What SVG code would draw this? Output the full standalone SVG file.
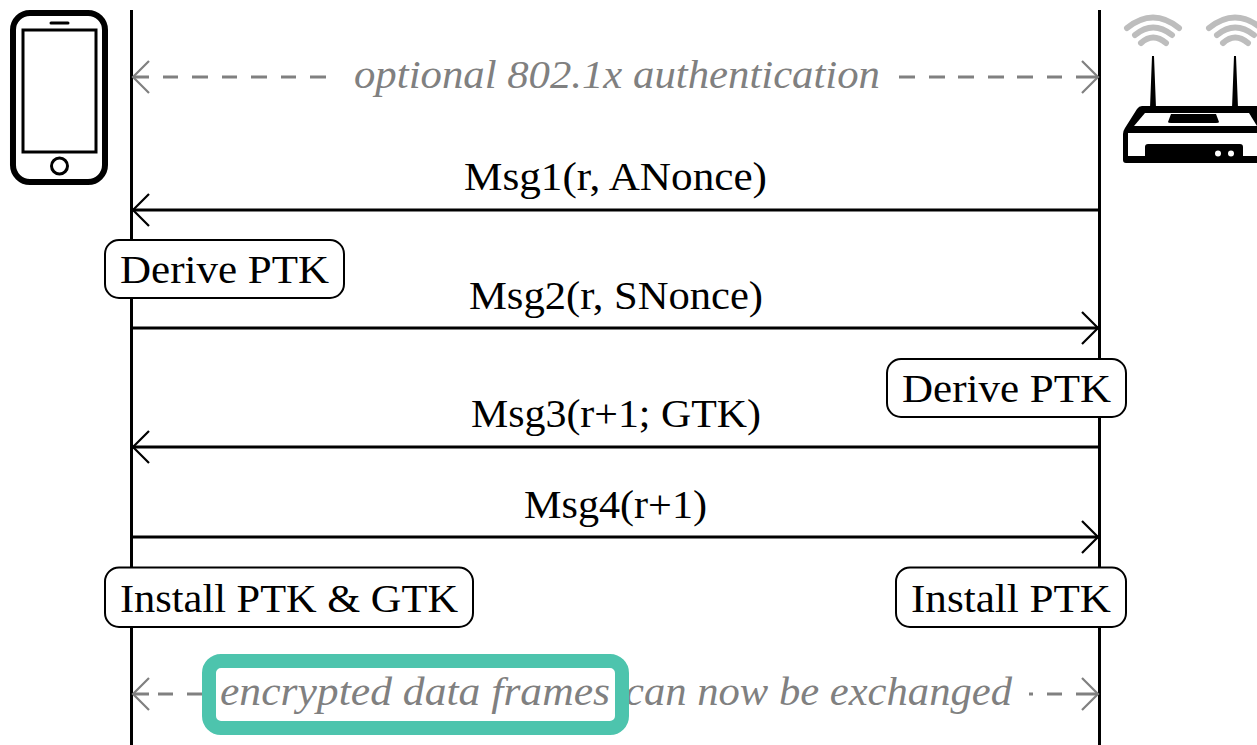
<svg xmlns="http://www.w3.org/2000/svg" width="1257" height="745" viewBox="0 0 1257 745">
<style>
text{font-family:"Liberation Serif","Times New Roman",serif;font-size:41px;fill:#000}
.g{fill:#808080;font-style:italic}
.life{stroke:#000;stroke-width:3;fill:none}
.msg{stroke:#000;stroke-width:3;fill:none}
.opt{stroke:#808080;stroke-width:3;fill:none}
.head{stroke:#000;stroke-width:2.2;fill:none}
.headg{stroke:#808080;stroke-width:2.2;fill:none}
.box{fill:#fff;stroke:#000;stroke-width:2}
.wifi{stroke:#bdbdbd;stroke-width:6;fill:none;stroke-linecap:round}
</style>
<rect width="1257" height="745" fill="#fff"/>
<g id="connectors">
<path class="life" d="M131.500 10V745"/>
<path class="life" d="M1099.500 10V745"/>
<path class="opt" d="M134 77H149M163 77H178M192 77H208M222 77H237M251 77H267M281 77H296M310 77H326"/>
<path class="opt" d="M899 77H915M929 77H945M958 77H974M988 77H1004M1017 77H1033M1047 77H1062M1076 77H1097"/>
<path class="headg" d="M149 61L133 77L149 93"/><path class="headg" d="M1082 61L1098 77L1082 93"/>
<path class="msg" d="M133 210H1098"/><path class="head" d="M149 194L133 210L149 226"/>
<path class="msg" d="M133 328H1098"/><path class="head" d="M1082 312L1098 328L1082 344"/>
<path class="msg" d="M133 447H1098"/><path class="head" d="M149 431L133 447L149 463"/>
<path class="msg" d="M133 537H1098"/><path class="head" d="M1082 521L1098 537L1082 553"/>
<path class="opt" d="M134 694H149M158 694H173M187 694H205"/>
<path class="opt" d="M1029 694H1033M1047 694H1062M1076 694H1097"/>
<path class="headg" d="M149 678L133 694L149 710"/><path class="headg" d="M1082 678L1098 694L1082 710"/>
</g>
<g id="phone">
<rect x="13" y="13" width="92" height="169" rx="17" fill="#fff" stroke="#000" stroke-width="6"/>
<rect x="23" y="30" width="73" height="122" fill="#fff" stroke="#000" stroke-width="3"/>
<path d="M51 23H68" stroke="#000" stroke-width="3" stroke-linecap="round"/>
<circle cx="59.500" cy="166" r="8" fill="#fff" stroke="#000" stroke-width="3"/>
</g>
<g id="router">
<path class="wifi" d="M1127 28Q1153 7 1179 28"/><path class="wifi" d="M1135 35Q1153 20 1172 35"/><path class="wifi" d="M1141 43Q1153 32 1166 43"/>
<path class="wifi" d="M1209 28Q1235 7 1261 28"/><path class="wifi" d="M1217 35Q1235 20 1254 35"/><path class="wifi" d="M1223 43Q1235 32 1248 43"/>
<path d="M1150 108L1152 56H1154L1156 108ZM1232 108L1234 56H1236L1238 108Z" fill="#000"/>
<path d="M1123 134V160Q1123 163 1126 163H1257V106H1142Q1139 106 1137 109L1125 128Q1123 131 1123 134Z" fill="#000"/>
<path d="M1134 126L1145 113H1249L1257 126Z" fill="#fff"/>
<path d="M1128 133H1257V156H1243V147Q1243 144 1240 144H1148Q1145 144 1145 147V156H1128Z" fill="#fff"/>
<path d="M1168 122L1171 114H1216L1219 122Q1219 123 1216 123H1171Q1168 123 1168 122Z" fill="#000"/>
<circle cx="1218" cy="153.500" r="3" fill="#fff"/><circle cx="1231" cy="153.500" r="3" fill="#fff"/>
</g>
<g id="opt-label"><text class="g" x="354" y="88" textLength="526" lengthAdjust="spacingAndGlyphs">optional 802.1x authentication</text></g>
<g id="msg1"><text x="464" y="190" textLength="303" lengthAdjust="spacingAndGlyphs">Msg1(r, ANonce)</text></g>
<g id="msg2"><text x="469" y="309" textLength="294" lengthAdjust="spacingAndGlyphs">Msg2(r, SNonce)</text></g>
<g id="msg3"><text x="471" y="427" textLength="290" lengthAdjust="spacingAndGlyphs">Msg3(r+1; GTK)</text></g>
<g id="msg4"><text x="524" y="518" textLength="183" lengthAdjust="spacingAndGlyphs">Msg4(r+1)</text></g>
<g id="derive-ptk-client"><rect class="box" x="105" y="240" width="239" height="58" rx="14"/><text x="120" y="283" textLength="209" lengthAdjust="spacingAndGlyphs">Derive PTK</text></g>
<g id="derive-ptk-ap"><rect class="box" x="887" y="359" width="239" height="58" rx="14"/><text x="902" y="402" textLength="209" lengthAdjust="spacingAndGlyphs">Derive PTK</text></g>
<g id="install-client"><rect class="box" x="105" y="567.500" width="368" height="59.500" rx="14"/><text x="120" y="612" textLength="338" lengthAdjust="spacingAndGlyphs">Install PTK &amp; GTK</text></g>
<g id="install-ap"><rect class="box" x="896" y="567.500" width="230" height="59.500" rx="14"/><text x="911" y="612" textLength="200" lengthAdjust="spacingAndGlyphs">Install PTK</text></g>
<g id="data-label">
<text class="g" x="220" y="705" textLength="390" lengthAdjust="spacingAndGlyphs">encrypted data frames</text>
<text class="g" x="625" y="705" textLength="387" lengthAdjust="spacingAndGlyphs">can now be exchanged</text>
</g>
<g id="highlight"><rect x="209" y="661" width="413" height="67" rx="12" fill="none" stroke="#4dc4ad" stroke-width="14"/></g>
</svg>
